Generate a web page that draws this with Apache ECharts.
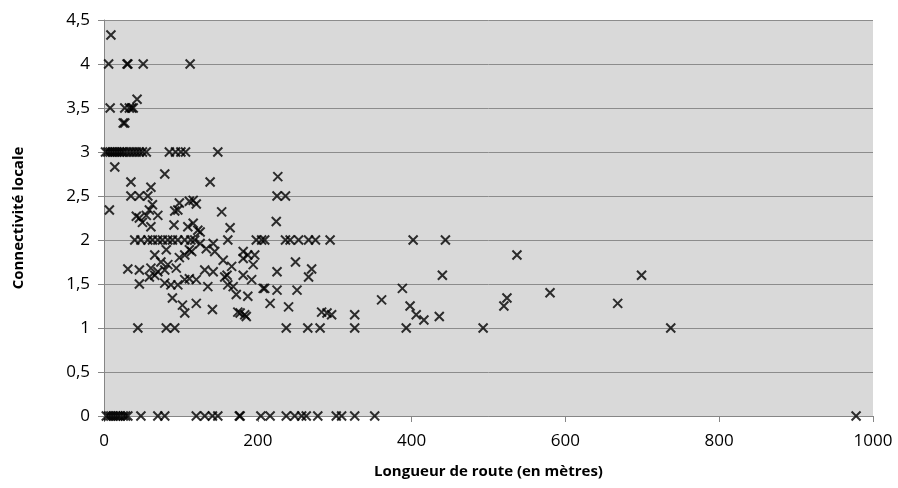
<!DOCTYPE html>
<html>
<head>
<meta charset="utf-8">
<script src="https://cdn.jsdelivr.net/npm/echarts@6/dist/echarts.min.js"></script>
<style>
html,body{margin:0;padding:0;background:#fff;}
#chart{width:898px;height:488px;}
</style>
</head>
<body>
<div id="chart"></div>
<script>
// Longueur de route (m)
const longueur = [
  9,
  6, 30, 31, 51, 112,
  8, 27, 33, 36, 38, 43,
  25, 27,
  2, 5, 8, 11, 14, 17, 20, 23, 26, 30, 34, 38, 42, 46, 50, 55, 85, 93, 100, 106, 148,
  14, 79, 35, 138, 61,
  35, 46, 57,
  226, 225, 236,
  7, 111, 116, 98, 120, 63,
  92, 96, 59, 153,
  42, 46, 55, 70, 50,
  224,
  91, 61, 109, 116, 164, 122, 125,
  40, 48, 57, 63, 70, 76, 83, 89, 96, 105, 113, 118, 161, 198, 205, 209, 236, 242, 253, 266, 275, 294, 402, 444,
  125, 142, 133, 144, 114, 81, 111,
  66, 105, 98, 74, 83,
  155, 166, 181, 187, 196, 181, 194,
  131, 142, 160, 157, 181,
  31, 46, 61, 70, 79, 94, 59, 66,
  46, 79, 87, 96, 105, 111,
  120, 135, 161, 168, 192, 207,
  249, 225, 270, 266, 209, 225, 251,
  537, 440, 699, 388, 580, 361, 524, 520, 668,
  398, 406, 416, 436,
  89, 102, 105, 172, 187, 120, 141,
  177, 183, 174, 185,
  216, 240, 283, 290, 296, 326,
  44, 81, 92, 237, 265, 281, 326, 393, 493, 737,
  3, 6, 9, 12, 15, 18, 21, 25, 28, 31, 48, 70, 79, 120, 131, 141, 148, 176, 177, 204, 216, 237, 248, 257, 263, 278, 302, 309, 326, 352, 978
];
// Connectivité locale
const connectivite = [
  4.33,
  4, 4, 4, 4, 4,
  3.5, 3.5, 3.5, 3.5, 3.5, 3.6,
  3.33, 3.33,
  3, 3, 3, 3, 3, 3, 3, 3, 3, 3, 3, 3, 3, 3, 3, 3, 3, 3, 3, 3, 3,
  2.83, 2.75, 2.66, 2.66, 2.6,
  2.5, 2.5, 2.5,
  2.72, 2.5, 2.5,
  2.34, 2.44, 2.45, 2.42, 2.41, 2.4,
  2.33, 2.34, 2.34, 2.32,
  2.27, 2.25, 2.28, 2.28, 2.2,
  2.21,
  2.17, 2.15, 2.15, 2.19, 2.14, 2.11, 2.09,
  2, 2, 2, 2, 2, 2, 2, 2, 2, 2, 2, 2, 2, 2, 2, 2, 2, 2, 2, 2, 2, 2, 2, 2,
  1.96, 1.96, 1.9, 1.87, 1.87, 1.89, 1.89,
  1.83, 1.83, 1.8, 1.75, 1.72,
  1.77, 1.7, 1.87, 1.83, 1.83, 1.79, 1.72,
  1.66, 1.64, 1.6, 1.58, 1.6,
  1.67, 1.66, 1.68, 1.64, 1.66, 1.68, 1.58, 1.6,
  1.5, 1.51, 1.49, 1.49, 1.55, 1.56,
  1.55, 1.47, 1.49, 1.47, 1.55, 1.45,
  1.75, 1.64, 1.67, 1.58, 1.45, 1.43, 1.43,
  1.83, 1.6, 1.6, 1.45, 1.4, 1.32, 1.34, 1.25, 1.28,
  1.25, 1.15, 1.09, 1.13,
  1.34, 1.26, 1.17, 1.38, 1.36, 1.28, 1.21,
  1.17, 1.15, 1.18, 1.13,
  1.28, 1.24, 1.18, 1.17, 1.15, 1.15,
  1, 1, 1, 1, 1, 1, 1, 1, 1, 1,
  0, 0, 0, 0, 0, 0, 0, 0, 0, 0, 0, 0, 0, 0, 0, 0, 0, 0, 0, 0, 0, 0, 0, 0, 0, 0, 0, 0, 0, 0, 0
];
const xTicks = [0, 200, 400, 600, 800, 1000];
const yTicks = [0, 0.5, 1, 1.5, 2, 2.5, 3, 3.5, 4, 4.5];

const xName = 'Longueur de route (en mètres)';
const yName = 'Connectivité locale';

const points = longueur.map((x, i) => [x, connectivite[i]]);
const FONT = '"Open Sans", sans-serif';
const axisGray = '#868686';

const chart = echarts.init(document.getElementById('chart'), null, {renderer: 'canvas'});
chart.setOption({
  animation: false,
  backgroundColor: '#ffffff',
  grid: {
    left: 104, right: 25, top: 20, bottom: 72,
    show: true, backgroundColor: '#D9D9D9', borderWidth: 0,
    outerBoundsMode: 'none'
  },
  xAxis: {
    type: 'value',
    min: xTicks[0], max: xTicks[xTicks.length - 1], interval: 200,
    name: xName, nameLocation: 'middle', nameGap: 48,
    nameTextStyle: {fontFamily: FONT, fontWeight: 'bold', fontSize: 15, color: '#000'},
    axisLine: {show: true, onZero: false, lineStyle: {color: axisGray, width: 1}},
    axisTick: {show: true, inside: false, length: 6, lineStyle: {color: axisGray}},
    splitLine: {show: false},
    axisLabel: {
      fontFamily: FONT, fontSize: 17, color: '#000', margin: 17,
      formatter: v => String(v)
    }
  },
  yAxis: {
    type: 'value',
    min: yTicks[0], max: yTicks[yTicks.length - 1], interval: 0.5,
    name: yName, nameLocation: 'middle', nameGap: 78, nameRotate: 90,
    nameTextStyle: {fontFamily: FONT, fontWeight: 'bold', fontSize: 15, color: '#000'},
    axisLine: {show: true, lineStyle: {color: axisGray, width: 1}},
    axisTick: {show: true, inside: false, length: 6, lineStyle: {color: axisGray}},
    splitLine: {show: true, lineStyle: {color: '#8C8C8C', width: 1}},
    axisLabel: {
      fontFamily: FONT, fontSize: 17, color: '#000', margin: 14,
      formatter: v => String(v).replace('.', ',')
    }
  },
  series: [{
    type: 'scatter',
    data: points,
    symbol: 'path://M0,0L10,10M10,0L0,10',
    symbolSize: 9,
    itemStyle: {color: 'transparent', borderColor: '#000', borderWidth: 2},
    emphasis: {disabled: true},
    clip: false
  }]
});
</script>
</body>
</html>
